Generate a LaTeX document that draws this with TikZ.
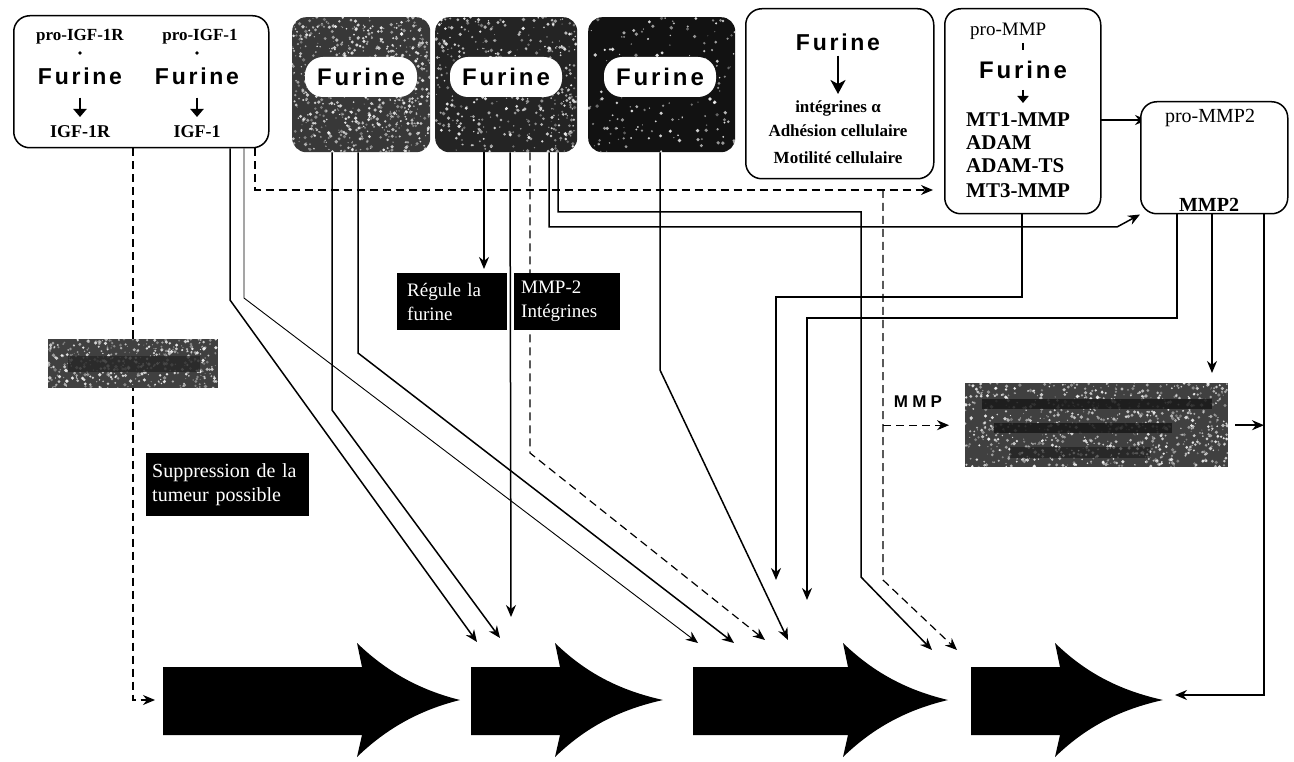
\documentclass[tikz,border=0pt]{standalone}
\usepackage{fontspec}
\setmainfont{Liberation Serif}
\newfontfamily\furfont[LetterSpace=12]{Liberation Sans}
\newfontfamily\mmpfont[LetterSpace=25]{Liberation Sans}
\usetikzlibrary{arrows.meta,calc}
\pgfdeclarelayer{wires}
\pgfsetlayers{wires,main}
\newcommand\fsz[2][]{\fontsize{#2}{#2}\selectfont}
% white speckles over a dark fill
\newcommand\speckle[5]{%
  \begin{scope}
    \clip (#1,#2) rectangle (#3,#4);
    \foreach \k in {1,...,#5}{%
      \pgfmathsetmacro\gx{#1+rnd*(#3-#1)}%
      \pgfmathsetmacro\gy{#2+rnd*(#4-#2)}%
      \pgfmathsetmacro\gr{0.5+1.4*rnd}%
      \pgfmathsetmacro\go{0.3+0.6*rnd}%
      \fill[white,opacity=\go] (\gx,\gy) circle[radius=\gr];
    }
  \end{scope}}
% broad block arrow: body start, head back, tip
\newcommand\bigarrow[3]{%
  \fill (#1,667) -- (#2,667) -- (#2-5,643)
    .. controls (#2+25,672) and (#2+58,690) .. (#3,700)
    .. controls (#2+58,710) and (#2+25,728) .. (#2-5,757)
    -- (#2,735) -- (#1,735) -- cycle;}
\begin{document}
\begin{tikzpicture}[x=1pt,y=-1pt,
  wire/.style={line width=1.5pt},
  thinwire/.style={line width=0.9pt},
  dashwire/.style={line width=1.2pt, dash pattern=on 8pt off 5pt},
  tip/.style={-{Stealth[length=12pt,width=10pt]}},
  whitebox/.style={draw, line width=1.5pt, rounded corners=16pt, fill=white, inner sep=0pt, anchor=north west},
  darkbox/.style={rounded corners=14pt, inner sep=0pt, anchor=north west},
  blob/.style={fill=white, rounded corners=18pt, minimum width=112pt, minimum height=40pt, inner sep=0pt, font=\furfont\bfseries\fsz{24}},
  blackbox/.style={fill=black, text=white, inner ysep=0pt, align=left, anchor=north west},
  greybox/.style={fill=black!75, inner sep=0pt, anchor=north west},
  txt/.style={inner sep=0pt},
  fur/.style={txt, font=\furfont\bfseries\fsz{23}},
  stub/.style={line width=2.6pt, -{Triangle[length=8pt,width=13pt]}},
]
\useasboundingbox (0,0) rectangle (1294,762);
\pgfmathsetseed{4711}

% ---------- boxes ----------
\node[whitebox, minimum width=255pt, minimum height=132pt] (b1) at (13,15) {};
\node[txt, font=\bfseries\fsz{17}] (p1) at (80,37) {pro-IGF-1R};
\node[txt, font=\bfseries\fsz{17}] (p2) at (200,37) {pro-IGF-1};
\fill (80,53) circle[radius=1.8];
\fill (197,53) circle[radius=1.8];
\node[fur] (f1) at (80,76) {Furine};
\node[fur] (f2) at (197,76) {Furine};
\node[txt, font=\bfseries\fsz{18}] (i1) at (80,132) {IGF-1R};
\node[txt, font=\bfseries\fsz{18}] (i2) at (197,132) {IGF-1};
\draw[stub] (80,0 |- f1.south) ++(0,13) -- (80,117);
\draw[stub] (197,0 |- f2.south) ++(0,13) -- (197,117);

\node[darkbox, fill=black!78, minimum width=138pt, minimum height=135pt] (b2) at (292,17) {};
\speckle{292}{17}{430}{152}{750}
\node[blob] (w2) at (361,77) {Furine};

\node[darkbox, fill=black!86, minimum width=142pt, minimum height=135pt] (b3) at (435,17) {};
\speckle{435}{17}{577}{152}{480}
\node[blob] (w3) at (506,77) {Furine};

\node[darkbox, fill=black!93, minimum width=147pt, minimum height=135pt] (b4) at (588,17) {};
\speckle{588}{17}{735}{152}{170}
\node[blob] (w4) at (660,77) {Furine};

\node[whitebox, minimum width=188pt, minimum height=170pt] (b5) at (745,8) {};
\node[fur] (f5) at (838,42) {Furine};
\node[txt, font=\bfseries\fsz{17}] (a5) at (838,108) {intégrines α};
\node[txt, font=\bfseries\fsz{17}] (c5) at (838,131) {Adhésion cellulaire};
\node[txt, font=\bfseries\fsz{17}] (m5) at (838,158) {Motilité cellulaire};
\draw[line width=2.4pt, -{Stealth[length=14pt,width=15pt,inset=4pt]}] (f5.south) ++(0,5) -- (838,94);

\node[whitebox, minimum width=156pt, minimum height=205pt] (b6) at (944,8) {};
\node[txt, anchor=west, font=\fsz{19}] (pm) at (970,31) {pro-MMP};
\draw[line width=2pt] (1023,43) -- (1023,50);
\node[txt, font=\furfont\bfseries\fsz{24}] (f6) at (1023,70) {Furine};
\draw[line width=2.2pt, -{Triangle[length=7pt,width=11pt]}] (1023,90) -- (1023,103);
\node[txt, anchor=west, font=\bfseries\fsz{21}] (mt1) at (966,120) {MT1-MMP};
\node[txt, anchor=west, font=\bfseries\fsz{21}] (ad1) at (966,143) {ADAM};
\node[txt, anchor=west, font=\bfseries\fsz{21}] (ad2) at (966,166) {ADAM-TS};
\node[txt, anchor=west, font=\bfseries\fsz{21}] (mt3) at (966,191) {MT3-MMP};

\node[whitebox, minimum width=147pt, minimum height=112pt] (b7) at (1140,101) {};
\node[txt, font=\fsz{20}] (pm2) at (1210,118) {pro-MMP2};
\node[txt, font=\bfseries\fsz{20}] (mm2) at (1209,205) {MMP2};

\node[blackbox, minimum width=110pt, minimum height=57pt, inner xsep=10pt, text width=90pt,
      font=\fontsize{19}{24}\selectfont] (r1) at (397,273) {Régule la\\furine};
\node[blackbox, minimum width=106pt, minimum height=57pt, inner xsep=7pt, text width=92pt,
      font=\fontsize{19}{24}\selectfont] (r2) at (514,273) {MMP-2\\Intégrines};
\node[blackbox, minimum width=163pt, minimum height=63pt, inner xsep=6pt, text width=151pt,
      font=\fontsize{20}{24}\selectfont] (sup) at (146,453) {Suppression de la\\tumeur possible};

\node[greybox, minimum width=170pt, minimum height=49pt] (gl) at (48,339) {};
\speckle{48}{339}{218}{388}{420}
\fill[black!85, opacity=0.8] (68,356) rectangle (200,372);

\node[greybox, minimum width=263pt, minimum height=84pt] (gr) at (965,383) {};
\speckle{965}{383}{1228}{467}{850}
\fill[black!90, opacity=0.85] (982,399) rectangle (1212,409);
\fill[black!90, opacity=0.85] (994,423) rectangle (1172,433);
\fill[black!90, opacity=0.6] (1010,447) rectangle (1150,458);

\node[txt, font=\mmpfont\bfseries\fsz{17}] (mmp) at (918,402) {MMP};

% ---------- block arrows ----------
\bigarrow{163}{362}{460}
\bigarrow{471}{560}{663}
\bigarrow{693}{848}{948}
\bigarrow{971}{1060}{1163}

% ---------- arrow targets ----------
\coordinate (e1) at (155,700);
\coordinate (e2) at (477,642);
\coordinate (e3) at (500,638);
\coordinate (e4) at (511,617);
\coordinate (e5) at (698,643);
\coordinate (e6) at (734,643);
\coordinate (e7) at (765,640);
\coordinate (e8) at (788,640);
\coordinate (e9) at (776,580);
\coordinate (e10) at (807,600);
\coordinate (e11) at (932,650);
\coordinate (e12) at (957,650);
\coordinate (e13) at (1175,695);
\coordinate (e14) at (933,190);

% ---------- connectors ----------
\begin{pgfonlayer}{wires}
\draw[dashwire, tip] (133,0 |- b1.south) |- (e1);
\draw[wire, tip] (230,0 |- b1.south) -- (230,300) -- (e2);
\draw[thinwire, tip] (244,0 |- b1.south) -- (244,298) -- (e5);
\draw[dashwire, tip] (255,0 |- b1.south) |- (e14);
\draw[dashwire, tip] (883,0 |- e14) -- (883,580) -- (e12);
\draw[dashwire, tip] (883,0 |- gr.west) -- ([xshift=-16pt]gr.west);

\draw[wire, tip] (332,0 |- b2.south) -- (332,410) -- (e3);
\draw[wire, tip] (358,0 |- b2.south) -- (358,353) -- (e6);

\draw[wire, tip, shorten >=4pt] (484,0 |- b3.south) -- (484,0 |- r1.north);
\draw[wire, tip] (510,0 |- b3.south) -- (e4);
\draw[dashwire, tip] (530,0 |- b3.south) -- (530,453) -- (e7);
\draw[wire, tip] (549,0 |- b3.south) -- (549,227) -- (1117,227) -- (b7.south west);
\draw[wire, tip] (558,0 |- b3.south) -- (558,212) -- (861,212) -- (861,577) -- (e11);

\draw[wire, tip] (660,0 |- b4.south) -- (660,370) -- (e8);

\draw[wire, tip] (1022,0 |- b6.south) -- (1022,297) -- (776,297) -- (e9);
\draw[wire, tip] ([xshift=6pt]mt1.east) -- ([xshift=7pt]b7.west |- mt1.east);

\draw[wire, tip] (1177,0 |- b7.south) -- (1177,318) -- (807,318) -- (e10);
\draw[wire, tip, shorten >=10pt] (1212,0 |- b7.south) -- (1212,0 |- gr.north);
\draw[wire, tip] (1264,0 |- b7.south) |- (e13);
\draw[wire, tip] ([xshift=7pt]gr.east) -- (1264,0 |- gr.east);
\end{pgfonlayer}
\end{tikzpicture}
\end{document}
